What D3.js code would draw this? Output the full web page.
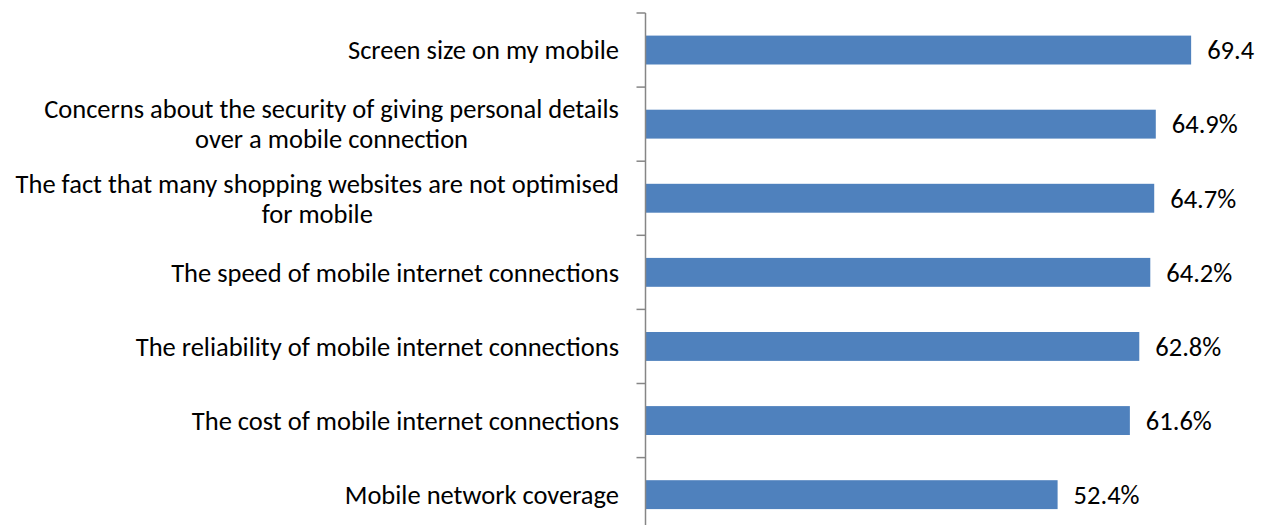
<!DOCTYPE html>
<html>
<head>
<meta charset="utf-8">
<script src="https://cdn.jsdelivr.net/npm/d3@7"></script>
<style>
  body { margin: 0; background: #fff; }
  svg { display: block; }
  text { font-family: Carlito, Lato, "Liberation Sans", sans-serif; fill: #000; }
</style>
</head>
<body>
<div id="chart"></div>
<script>
// data
var categories = [
  "Screen size on my mobile",
  "Concerns about the security of giving personal details\nover a mobile connection",
  "The fact that many shopping websites are not optimised\nfor mobile",
  "The speed of mobile internet connections",
  "The reliability of mobile internet connections",
  "The cost of mobile internet connections",
  "Mobile network coverage"
];
var values = [69.4, 64.9, 64.7, 64.2, 62.8, 61.6, 52.4];
var valueLabels = ["69.4", "64.9%", "64.7%", "64.2%", "62.8%", "61.6%", "52.4%"];

var width = 1269;
var height = 525;
var margin = { left: 646, top: 13 };
var step = 74.1;
var fontSize = 26.5;

var barColor = "#4F81BD";
var axisColor = "#868686";

var svg = d3.select("#chart").append("svg")
  .attr("width", width)
  .attr("height", height);

var y = d3.scaleBand()
  .domain(categories)
  .range([margin.top, margin.top + step * categories.length])
  .paddingInner(0.61)
  .paddingOuter(0.305);

var x = d3.scaleLinear()
  .domain([0, 80])
  .range([margin.left, margin.left + 80 * 7.855]);

// bars
svg.selectAll("rect.bar")
  .data(categories)
  .enter().append("rect")
  .attr("class", "bar")
  .attr("x", x(0))
  .attr("y", function (d) { return y(d); })
  .attr("width", function (d, i) { return x(values[i]) - x(0); })
  .attr("height", y.bandwidth())
  .attr("fill", barColor);

// value labels
svg.selectAll("text.val")
  .data(categories)
  .enter().append("text")
  .attr("class", "val")
  .attr("x", function (d, i) { return x(values[i]) + 16; })
  .attr("y", function (d) { return y(d) + y.bandwidth() / 2; })
  .attr("dy", "0.35em")
  .style("font-size", fontSize + "px")
  .text(function (d, i) { return valueLabels[i]; });

// category axis: vertical line + ticks at band boundaries
var axisX = margin.left - 0.5;
svg.append("line")
  .attr("x1", axisX).attr("x2", axisX)
  .attr("y1", margin.top).attr("y2", margin.top + step * categories.length)
  .attr("stroke", axisColor)
  .attr("stroke-width", 1.5);

var bounds = d3.range(categories.length + 1).map(function (i) { return margin.top + i * step; });
svg.selectAll("line.tick")
  .data(bounds)
  .enter().append("line")
  .attr("class", "tick")
  .attr("x1", axisX - 9).attr("x2", axisX)
  .attr("y1", function (d) { return d; })
  .attr("y2", function (d) { return d; })
  .attr("stroke", axisColor)
  .attr("stroke-width", 1.5);

// category labels (multi-line, centred block, right aligned to axis)
var lineH = 30;
var labelRight = 619;
categories.forEach(function (c) {
  var lines = c.split("\n");
  var g = svg.append("text")
    .style("font-size", fontSize + "px");
  var cy = y(c) + y.bandwidth() / 2;
  var spans = lines.map(function (l, j) {
    return g.append("tspan")
      .attr("y", cy + (j - (lines.length - 1) / 2) * lineH)
      .attr("dy", "0.35em")
      .text(l);
  });
  var widths = spans.map(function (s) { return s.node().getComputedTextLength(); });
  var maxW = d3.max(widths);
  var centre = labelRight - maxW / 2;
  spans.forEach(function (s) {
    s.attr("x", centre).attr("text-anchor", "middle");
  });
});
</script>
</body>
</html>
